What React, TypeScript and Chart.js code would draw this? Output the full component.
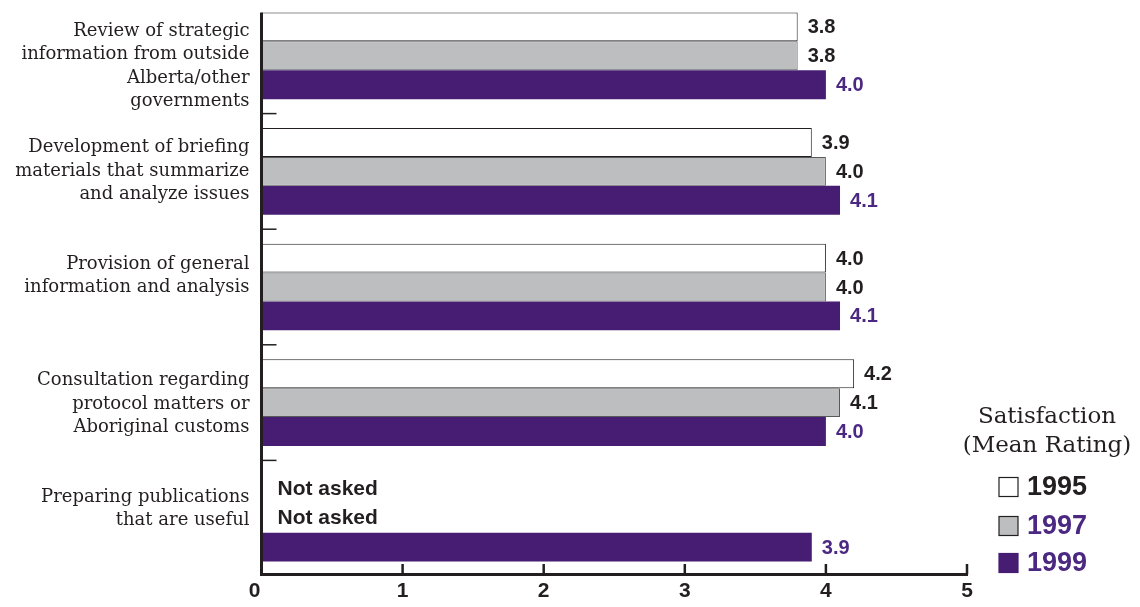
import { useEffect, useRef } from "react";
import { Chart, registerables } from "chart.js";

Chart.register(...registerables);

// ---- data ----
const categories: string[][] = [
  ["Review of strategic", "information from outside", "Alberta/other", "governments"],
  ["Development of briefing", "materials that summarize", "and analyze issues"],
  ["Provision of general", "information and analysis"],
  ["Consultation regarding", "protocol matters or", "Aboriginal customs"],
  ["Preparing publications", "that are useful"],
];
const years = ["1995", "1997", "1999"];
const values1995: (number | null)[] = [3.8, 3.9, 4.0, 4.2, null];
const values1997: (number | null)[] = [3.8, 4.0, 4.0, 4.1, null];
const values1999: (number | null)[] = [4.0, 4.1, 4.1, 4.0, 3.9];
const xTicks = [0, 1, 2, 3, 4, 5];
const missingText = "Not asked";
const legendTitle = ["Satisfaction", "(Mean Rating)"];

// ---- styling ----
const SHIFT = 20; // canvas extends above the page top so the first band starts at the edge
const W = 1140;
const H = 607 + SHIFT;

const DARK = "#231f20";
const PURPLE = "#461d73";
const PURPLE_TEXT = "#4b2881";
const GRAY = "#bcbec0";
const SANS = "'Liberation Sans', Arial, sans-serif";
const SERIF = "'DejaVu Serif', serif";

const fills = ["#ffffff", GRAY, PURPLE];
const borders = [DARK, "#58595b", PURPLE];
const labelColors = [DARK, DARK, PURPLE_TEXT];
const legendColors = [DARK, PURPLE_TEXT, PURPLE_TEXT];

const overlay = {
  id: "overlay",
  afterDatasetsDraw(chart: any) {
    const { ctx, chartArea: a, scales } = chart;
    const xs = scales.x;
    const ys = scales.y;
    const n = categories.length;
    const band = ys.getPixelForValue(1) - ys.getPixelForValue(0);
    const thick = (band * 0.75) / 3;
    ctx.save();

    // value labels and "Not asked" notes
    chart.data.datasets.forEach((ds: any, di: number) => {
      const meta = chart.getDatasetMeta(di);
      ds.data.forEach((v: number | null, i: number) => {
        const el = meta.data[i];
        const cy = el && isFinite(el.y) ? el.y : ys.getPixelForValue(i) + (di - 1) * thick;
        ctx.textBaseline = "middle";
        ctx.textAlign = "left";
        if (v === null || v === undefined) {
          ctx.font = `bold 21px ${SANS}`;
          ctx.fillStyle = DARK;
          ctx.fillText(missingText, a.left + 16, cy);
        } else {
          ctx.font = `bold 20px ${SANS}`;
          ctx.fillStyle = labelColors[di];
          ctx.fillText(v.toFixed(1), xs.getPixelForValue(v) + 10, cy + 1);
        }
      });
    });

    // left axis line starting at top of first bar
    const firstTop = ys.getPixelForValue(0) - thick * 1.5;
    ctx.strokeStyle = DARK;
    ctx.lineWidth = 3;
    ctx.beginPath();
    ctx.moveTo(a.left, firstTop);
    ctx.lineTo(a.left, a.bottom - 1.5);
    ctx.stroke();

    // bottom axis line
    ctx.beginPath();
    ctx.moveTo(a.left - 1.5, a.bottom - 1.5);
    ctx.lineTo(xs.getPixelForValue(xTicks[xTicks.length - 1]) + 1, a.bottom - 1.5);
    ctx.stroke();

    // upward tick marks and tick labels
    ctx.lineWidth = 2.5;
    ctx.font = `bold 21px 'Liberation Sans Narrow', ${SANS}`;
    ctx.fillStyle = DARK;
    ctx.textAlign = "center";
    ctx.textBaseline = "middle";
    xTicks.forEach((t) => {
      const px = xs.getPixelForValue(t);
      if (t > 0) {
        ctx.beginPath();
        ctx.moveTo(px, a.bottom - 1.5);
        ctx.lineTo(px, a.bottom - 12);
        ctx.stroke();
      }
      ctx.fillText(String(t), t === 0 ? px - 7 : px, a.bottom + 15);
    });

    // short separators between category bands
    ctx.lineWidth = 1.5;
    for (let i = 0; i < n - 1; i++) {
      const py = (ys.getPixelForValue(i) + ys.getPixelForValue(i + 1)) / 2;
      ctx.beginPath();
      ctx.moveTo(a.left, py);
      ctx.lineTo(a.left + 15, py);
      ctx.stroke();
    }

    // category labels
    ctx.font = `18px ${SERIF}`;
    ctx.fillStyle = DARK;
    ctx.textAlign = "right";
    ctx.textBaseline = "middle";
    categories.forEach((lines, i) => {
      const cy = ys.getPixelForValue(i);
      const top = cy - 24.5 + i * 0.8;
      lines.forEach((ln, k) => {
        ctx.fillText(ln, a.left - 12, top + k * 23.5);
      });
    });

    // legend
    const lx = a.right + 80;
    ctx.font = `23px ${SERIF}`;
    ctx.textAlign = "center";
    ctx.textBaseline = "alphabetic";
    ctx.fillText(legendTitle[0], lx, 423 + SHIFT);
    ctx.fillText(legendTitle[1], lx, 452 + SHIFT);
    const rowY = [487, 526, 563];
    years.forEach((yr, k) => {
      const cy = rowY[k] + SHIFT;
      ctx.fillStyle = fills[k];
      ctx.fillRect(999, cy - 9.5, 19, 19);
      ctx.strokeStyle = k === 2 ? PURPLE : DARK;
      ctx.lineWidth = 1.2;
      ctx.strokeRect(999, cy - 9.5, 19, 19);
      ctx.font = `bold 27px ${SANS}`;
      ctx.fillStyle = legendColors[k];
      ctx.textAlign = "left";
      ctx.textBaseline = "middle";
      ctx.fillText(yr, 1027, cy + 1);
    });

    ctx.restore();
  },
};

export default function App() {
  const ref = useRef<HTMLCanvasElement | null>(null);

  useEffect(() => {
    const canvas = ref.current;
    if (!canvas) return;
    const valueSets = [values1995, values1997, values1999];
    const chart = new Chart(canvas, {
      type: "bar",
      data: {
        labels: categories.map((c) => c.join(" ")),
        datasets: years.map((yr, k) => ({
          label: yr,
          data: valueSets[k],
          backgroundColor: fills[k],
          borderColor: borders[k],
          borderWidth: k === 2 ? 0 : 1,
          borderSkipped: false,
          categoryPercentage: 0.75,
          barPercentage: 1.0,
        })),
      },
      options: {
        indexAxis: "y",
        responsive: false,
        animation: false,
        devicePixelRatio: 1,
        layout: {
          padding: { left: 261.5, right: W - 967, top: SHIFT - 2, bottom: H - (576 + SHIFT) },
        },
        scales: {
          x: { type: "linear", min: 0, max: 5, display: false },
          y: { type: "category", display: false },
        },
        plugins: {
          legend: { display: false },
          tooltip: { enabled: false },
        },
      },
      plugins: [overlay],
    } as any);
    return () => chart.destroy();
  }, []);

  return (
    <div style={{ position: "absolute", left: 0, top: -SHIFT, width: W, height: H }}>
      <canvas ref={ref} width={W} height={H} style={{ display: "block", width: W, height: H }} />
    </div>
  );
}
